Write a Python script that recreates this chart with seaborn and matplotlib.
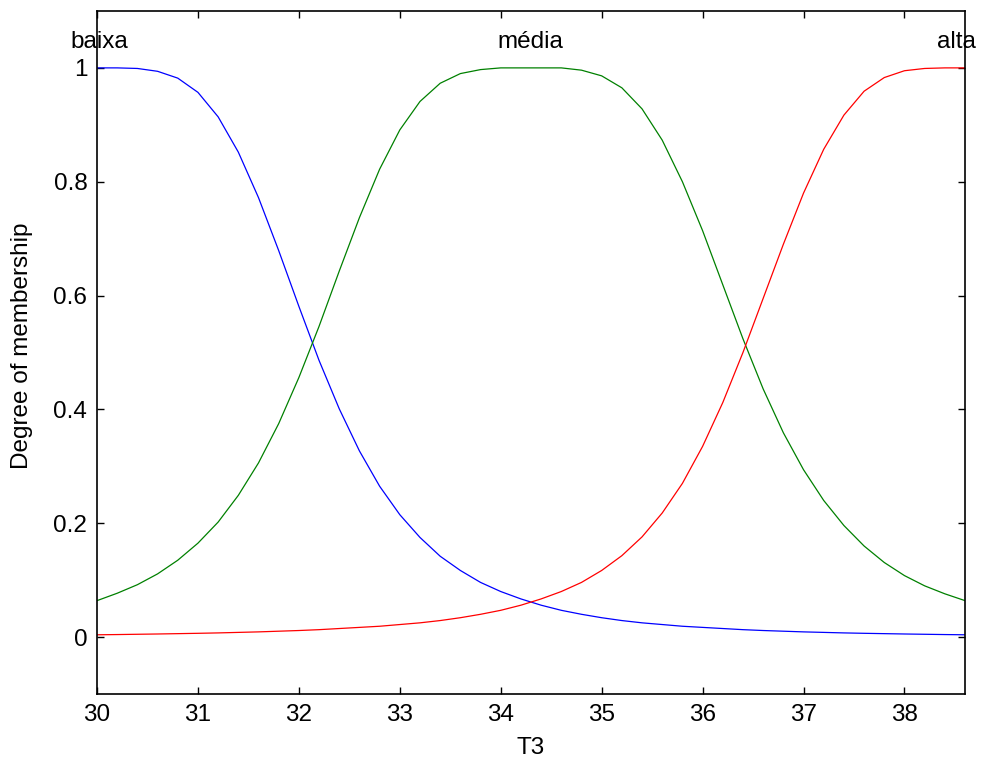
import matplotlib
matplotlib.use('Agg')
import matplotlib.pyplot as plt
import seaborn as sns
import pandas as pd
import numpy as np

# values on a 0.2 grid
t3 = [30.0, 30.2, 30.4, 30.6, 30.8, 31.0, 31.2, 31.4, 31.6, 31.8,
      32.0, 32.2, 32.4, 32.6, 32.8, 33.0, 33.2, 33.4, 33.6, 33.8,
      34.0, 34.2, 34.4, 34.6, 34.8, 35.0, 35.2, 35.4, 35.6, 35.8,
      36.0, 36.2, 36.4, 36.6, 36.8, 37.0, 37.2, 37.4, 37.6, 37.8,
      38.0, 38.2, 38.4, 38.6]

baixa = [1.0, 1.0, 0.999, 0.994, 0.982, 0.957, 0.914, 0.852, 0.772, 0.679,
         0.581, 0.486, 0.401, 0.327, 0.265, 0.215, 0.175, 0.142, 0.117, 0.096,
         0.080, 0.067, 0.056, 0.047, 0.040, 0.034, 0.029, 0.025, 0.022, 0.019,
         0.017, 0.015, 0.013, 0.0115, 0.0103, 0.0091, 0.0082, 0.0073, 0.0066, 0.0060,
         0.0054, 0.0049, 0.0044, 0.0040]

media = [0.064, 0.077, 0.092, 0.111, 0.135, 0.165, 0.202, 0.249, 0.306, 0.375,
         0.456, 0.546, 0.643, 0.737, 0.822, 0.891, 0.941, 0.973, 0.990, 0.997,
         1.0, 1.0, 1.0, 1.0, 0.996, 0.986, 0.965, 0.928, 0.873, 0.800,
         0.714, 0.619, 0.524, 0.436, 0.359, 0.294, 0.240, 0.196, 0.160, 0.131,
         0.108, 0.090, 0.076, 0.064]

alta = [0.0040, 0.0044, 0.0049, 0.0054, 0.0060, 0.0066, 0.0073, 0.0082, 0.0091, 0.0103,
        0.0115, 0.013, 0.015, 0.017, 0.019, 0.022, 0.025, 0.029, 0.034, 0.040,
        0.047, 0.056, 0.067, 0.080, 0.096, 0.117, 0.143, 0.176, 0.218, 0.270,
        0.335, 0.412, 0.500, 0.595, 0.690, 0.780, 0.857, 0.917, 0.959, 0.983,
        0.995, 0.999, 1.0, 1.0]

mf_names = ['baixa', 'média', 'alta']
mf_label_x = [30.02, 34.29, 38.52]
mf_colors = ['#0000ff', '#008000', '#ff0000']

x_ticks = [30, 31, 32, 33, 34, 35, 36, 37, 38]
y_ticks = [0, 0.2, 0.4, 0.6, 0.8, 1]
y_ticklabels = ['0', '0.2', '0.4', '0.6', '0.8', '1']

df = pd.DataFrame({'T3': t3 * 3,
                   'mu': baixa + media + alta,
                   'mf': [n for n in mf_names for _ in t3]})

sns.set_style('ticks')
plt.rcParams['font.family'] = ['Liberation Sans', 'DejaVu Sans']
plt.rcParams['text.color'] = 'black'
plt.rcParams['axes.labelcolor'] = 'black'
plt.rcParams['xtick.color'] = 'black'
plt.rcParams['ytick.color'] = 'black'

fig = plt.figure(figsize=(9.83, 7.67), dpi=100)
ax = fig.add_axes([0.0987, 0.0952, 0.883, 0.8905])

sns.lineplot(data=df, x='T3', y='mu', hue='mf', palette=mf_colors,
             linewidth=0.9, legend=False, ax=ax, sort=False)

for name, xl in zip(mf_names, mf_label_x):
    ax.text(xl, 1.035, name, ha='center', va='baseline', fontsize=17.5,
            color='black')

ax.set_xlim(30, 38.6)
ax.set_ylim(-0.1, 1.1)
ax.set_xticks(x_ticks)
ax.set_xticklabels([str(t) for t in x_ticks])
ax.set_yticks(y_ticks)
ax.set_yticklabels(y_ticklabels)
ax.tick_params(direction='in', top=True, right=True, length=5, width=1,
               labelsize=17.5, pad=7, color='black', labelcolor='black')

for sp in ax.spines.values():
    sp.set_visible(True)
    sp.set_linewidth(1.2)
    sp.set_color('black')

ax.set_xlabel('T3', fontsize=17.5, color='black')
ax.set_ylabel('Degree of membership', fontsize=17.5, color='black')
ax.xaxis.set_label_coords(0.499, -0.063)
ax.yaxis.set_label_coords(-0.074, 0.51)

fig.savefig('out.png', dpi=100)
